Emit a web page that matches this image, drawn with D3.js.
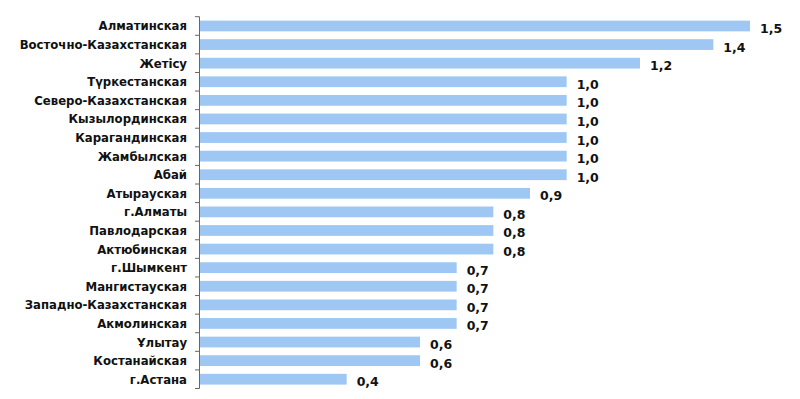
<!DOCTYPE html>
<html>
<head>
<meta charset="utf-8">
<script src="https://cdn.jsdelivr.net/npm/d3@7"></script>
<style>
body{margin:0;background:#fff;}
</style>
</head>
<body>
<svg id="svg" width="800" height="399"></svg>
<script>
var regions = ['Алматинская','Восточно-Казахстанская','Жетісу','Түркестанская','Северо-Казахстанская',
    'Кызылординская','Карагандинская','Жамбылская','Абай','Атырауская','г.Алматы','Павлодарская',
    'Актюбинская','г.Шымкент','Мангистауская','Западно-Казахстанская','Акмолинская','Ұлытау',
    'Костанайская','г.Астана'];
var values = [1.5,1.4,1.2,1.0,1.0,1.0,1.0,1.0,1.0,0.9,0.8,0.8,0.8,0.7,0.7,0.7,0.7,0.6,0.6,0.4];

function genChart(){
    var s = d3.select('#svg');
    var x = d3.scaleLinear().domain([0,1.5]).range([200,750]);
    var y = d3.scaleBand().domain(regions).range([16.7,388.5]).paddingInner(0.42).paddingOuter(0.21);

    s.selectAll('rect.bar')
        .data(values)
        .enter()
        .append('rect')
        .attr('class','bar')
        .attr('x', x(0))
        .attr('y', function(d,i){ return y(regions[i]); })
        .attr('width', function(d){ return x(d)-x(0); })
        .attr('height', y.bandwidth())
        .attr('fill', '#9ec8f3');

    s.selectAll('text.val')
        .data(values)
        .enter()
        .append('text')
        .attr('class','val')
        .attr('x', function(d){ return x(d)+10; })
        .attr('y', function(d,i){ return y(regions[i])+y.bandwidth()/2+7; })
        .attr('font-size', 12.5)
        .attr('font-weight','bold')
        .attr('font-family','DejaVu Sans')
        .attr('fill','#111')
        .text(function(d){ return d3.format('.1f')(d).replace('.',','); });

    // category axis with ticks at band boundaries
    var ax = s.append('g');
    ax.append('line')
        .attr('x1',199.5).attr('x2',199.5)
        .attr('y1',y.range()[0]).attr('y2',y.range()[1])
        .attr('stroke','#666').attr('stroke-width',1);
    var step = y.step();
    for(var i=0;i<=regions.length;i++){
        var yy = y.range()[0] + i*step;
        ax.append('line')
            .attr('x1',195).attr('x2',199.5)
            .attr('y1',yy).attr('y2',yy)
            .attr('stroke','#666');
    }
    s.selectAll('text.lab')
        .data(regions)
        .enter()
        .append('text')
        .attr('class','lab')
        .attr('x',187)
        .attr('y', function(d){ return y(d)+y.bandwidth()/2+4.5; })
        .attr('text-anchor','end')
        .attr('font-size',13)
        .attr('font-weight','bold')
        .attr('font-family','DejaVu Sans Condensed, DejaVu Sans')
        .attr('fill','#111')
        .text(function(d){ return d; });
}
genChart();
</script>
</body>
</html>
